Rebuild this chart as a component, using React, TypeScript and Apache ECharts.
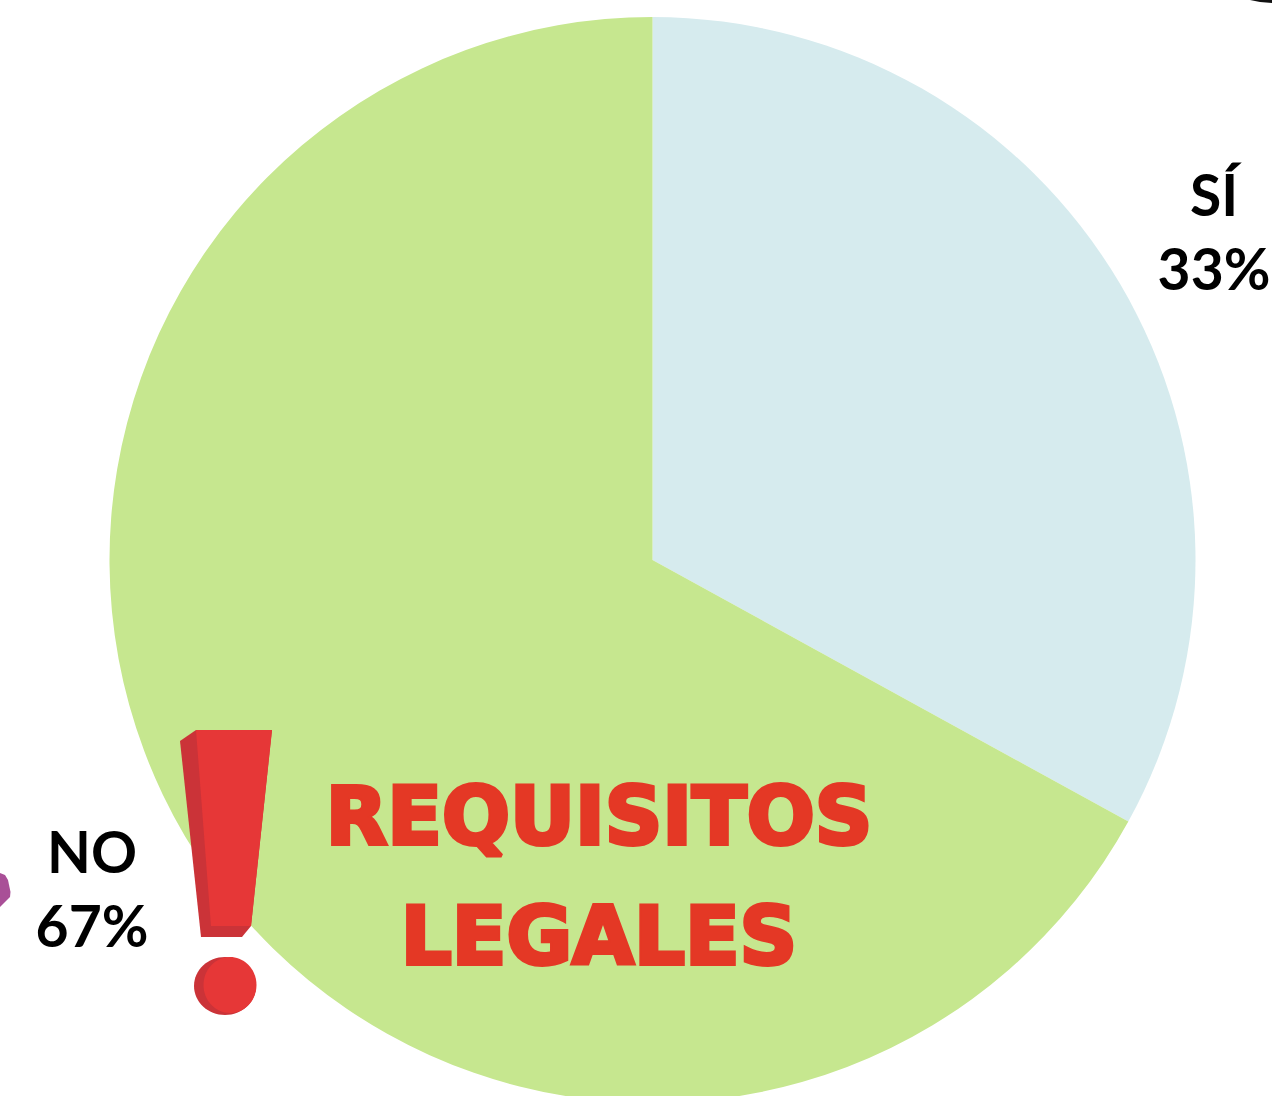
import React, { useEffect, useRef } from "react";
import * as echarts from "echarts";

const categories = ["SÍ", "NO"];
const values = [33, 67];
const colors = ["#d6ebee", "#c6e78f"];
const title = "REQUISITOS\nLEGALES";

export default function App() {
  const ref = useRef<HTMLDivElement>(null);
  useEffect(() => {
    document.body.style.margin = "0";
    const chart = echarts.init(ref.current!, undefined, { renderer: "svg" });
    chart.setOption({
      animation: false,
      backgroundColor: "#ffffff",
      title: {
        text: title,
        left: 594,
        top: 751,
        textAlign: "center",
        textStyle: {
          fontFamily: "DejaVu Sans",
          fontWeight: "bold",
          fontSize: 80,
          lineHeight: 120,
          color: "#e43825",
          textBorderColor: "#e43825",
          textBorderWidth: 4,
        },
      },
      series: [
        {
          type: "pie",
          center: [652.5, 560],
          radius: [0, 543],
          startAngle: 90,
          clockwise: true,
          silent: true,
          data: categories.map((name, i) => ({
            name,
            value: values[i],
            itemStyle: { color: colors[i] },
          })),
          labelLine: { show: false },
          label: {
            show: true,
            position: "outside",
            formatter: "{b}\n{c}%",
            fontFamily: "Lato",
            fontWeight: "bold",
            fontSize: 57,
            lineHeight: 74,
            color: "#000000",
            align: "center",
            verticalAlign: "middle",
            overflow: "none",
            width: 200,
          },
          labelLayout: (p: any) =>
            p.dataIndex === 0
              ? { x: 1214, y: 231, align: "center", verticalAlign: "middle" }
              : { x: 92, y: 888, align: "center", verticalAlign: "middle" },
        },
      ],
      graphic: [
        { type: "polygon", z: 10, shape: { points: [[196, 730], [272, 730], [251, 926], [242, 937], [201, 937], [180, 741]] }, style: { fill: "#cb3338" } },
        { type: "polygon", z: 11, shape: { points: [[196, 730], [272, 730], [251, 926], [211, 926]] }, style: { fill: "#e63737" } },
        { type: "ellipse", z: 10, shape: { cx: 225, cy: 986, rx: 31, ry: 29 }, style: { fill: "#cb3338" } },
        { type: "ellipse", z: 11, shape: { cx: 230, cy: 985, rx: 26.5, ry: 28 }, style: { fill: "#e63737" } },
        { type: "polygon", z: 10, shape: { points: [[0, 873], [5, 875], [8, 880], [10.5, 892], [10, 897], [0, 907]] }, style: { fill: "#a94f97" } },
        { type: "polygon", z: 10, shape: { points: [[1250, 0], [1272, 0], [1272, 3], [1260, 2]] }, style: { fill: "#111111" } },
      ],
    });
    return () => chart.dispose();
  }, []);
  return <div ref={ref} style={{ width: 1272, height: 1096 }} />;
}
